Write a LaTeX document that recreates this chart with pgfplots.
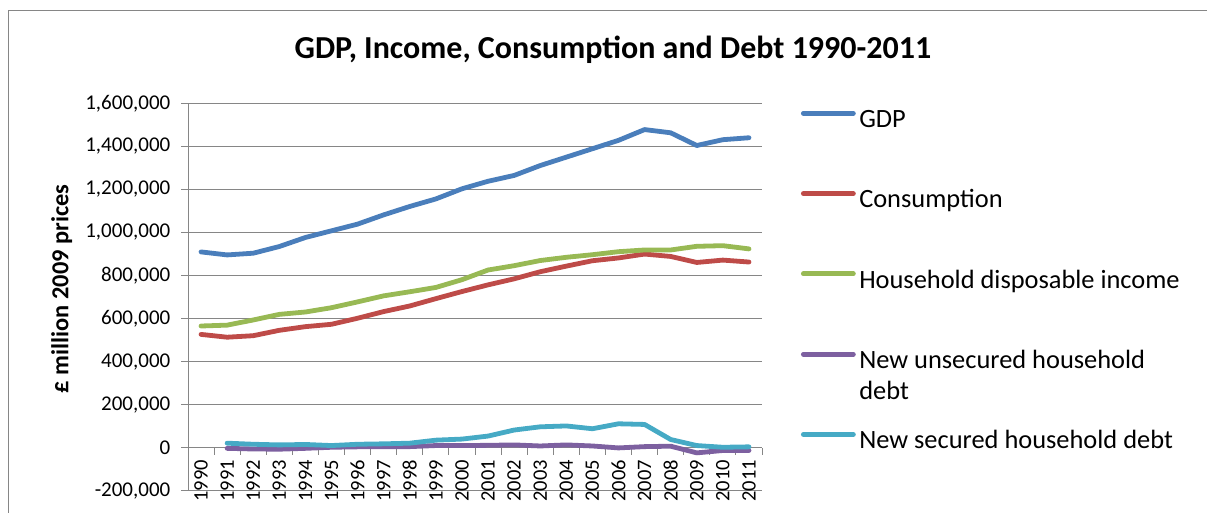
\documentclass[border=0pt]{standalone}
\usepackage{fontspec}
\setmainfont{Carlito}
\usepackage{pgfplots}
\pgfplotsset{compat=1.18}
\definecolor{cgdp}{HTML}{4A7EBB}
\definecolor{ccons}{HTML}{BE4B48}
\definecolor{cinc}{HTML}{98B954}
\definecolor{cuns}{HTML}{7D60A0}
\definecolor{csec}{HTML}{46AAC5}
\definecolor{gridgray}{HTML}{868686}
\begin{document}
\begin{tikzpicture}[x=1pt,y=1pt]
\useasboundingbox (0,0) rectangle (1207,513);
\draw[gridgray, line width=1.3pt] (8.3,0) -- (8.3,502.3) -- (1207,502.3);
\begin{axis}[
  at={(188pt,22pt)}, anchor=south west,
  scale only axis, width=574pt, height=387.7pt,
  xmin=-0.5, xmax=21.5, ymin=-200000, ymax=1600000,
  axis x line=middle, axis y line=left,
  axis line style={-, draw=gridgray, line width=1pt},
  hide obscured x ticks=false, hide obscured y ticks=false,
  tick align=outside, major tick length=7pt,
  tick style={draw=gridgray, line width=1pt},
  xtick={-0.5,0.5,...,21.5}, xticklabels={},
  extra x ticks={0,1,...,21},
  extra x tick labels={1990,1991,1992,1993,1994,1995,1996,1997,1998,1999,2000,2001,2002,2003,2004,2005,2006,2007,2008,2009,2010,2011},
  extra x tick style={major tick length=0pt, grid=none},
  x tick label style={rotate=90, anchor=east, inner sep=0pt, xshift=-12pt, font=\fontsize{20.5}{24}\selectfont},
  ytick={-200000,0,200000,400000,600000,800000,1000000,1200000,1400000,1600000},
  ymajorgrids, grid style={draw=gridgray, line width=1pt},
  scaled y ticks=false,
  /pgf/number format/fixed,
  /pgf/number format/1000 sep={,},
  /pgf/number format/assume math mode=true,
  y tick label style={anchor=east, inner sep=0pt, xshift=-10.5pt, font=\fontsize{21}{24}\selectfont},
  title={GDP, Income, Consumption and Debt 1990-2011},
  title style={at={(axis description cs:0.7404,1.1)}, anchor=base, inner sep=0pt, font=\bfseries\fontsize{32}{36}\selectfont},
  ylabel={£ million 2009 prices},
  every axis y label/.style={at={(axis description cs:-0.22,0.521)}, rotate=90, anchor=center, font=\bfseries\fontsize{24.4}{28}\selectfont},
  legend style={draw=none, fill=none, at={(axis description cs:1.0635,0.9838)}, anchor=north west, inner sep=0pt, outer sep=0pt, row sep=56.3pt, column sep=1pt, font=\fontsize{26.4}{31}\selectfont, nodes={inner sep=0pt, text height=18pt, text depth=6pt}},
  legend cell align=left,
  legend image code/.code={\path (0pt,0pt) (55pt,0pt); \draw[#1, line cap=round] (2.5pt,8.3pt) -- (52.5pt,8.3pt);},
  every axis plot/.append style={line width=4.8pt, line join=round, line cap=round, mark=none},
]
\addplot[cgdp] coordinates {(0,910000) (1,896000) (2,904000) (3,935000) (4,977000) (5,1008000) (6,1039000) (7,1082000) (8,1121000) (9,1156000) (10,1203000) (11,1238000) (12,1265000) (13,1311000) (14,1350000) (15,1389000) (16,1428000) (17,1478000) (18,1463000) (19,1404000) (20,1431000) (21,1440000)};
\addlegendentry{GDP}
\addplot[ccons] coordinates {(0,527000) (1,514000) (2,521000) (3,546000) (4,563000) (5,574000) (6,602000) (7,633000) (8,659000) (9,693000) (10,726000) (11,757000) (12,785000) (13,818000) (14,844000) (15,869000) (16,882000) (17,900000) (18,889000) (19,861000) (20,872000) (21,863000)};
\addlegendentry{Consumption}
\addplot[cinc] coordinates {(0,566000) (1,570000) (2,594000) (3,620000) (4,631000) (5,651000) (6,678000) (7,706000) (8,725000) (9,745000) (10,781000) (11,826000) (12,846000) (13,870000) (14,885000) (15,897000) (16,911000) (17,919000) (18,919000) (19,936000) (20,939000) (21,924000)};
\addlegendentry{Household disposable income}
\addplot[cuns] coordinates {(1,-2000) (2,-5000) (3,-6000) (4,-2000) (5,3000) (6,5000) (7,6000) (8,6000) (9,11000) (10,11000) (11,12000) (12,14000) (13,9000) (14,14000) (15,9000) (16,0) (17,6000) (18,8000) (19,-23000) (20,-12000) (21,-12000)};
\addlegendentry{\smash{\begin{tabular}[t]{@{}l@{}}New unsecured household\\debt\end{tabular}}}
\addplot[csec] coordinates {(1,22000) (2,17000) (3,14000) (4,16000) (5,11000) (6,17000) (7,19000) (8,22000) (9,36000) (10,41000) (11,55000) (12,83000) (13,98000) (14,102000) (15,89000) (16,112000) (17,109000) (18,39000) (19,11000) (20,3000) (21,5000)};
\addlegendentry{New secured household debt}
\end{axis}
\end{tikzpicture}
\end{document}
